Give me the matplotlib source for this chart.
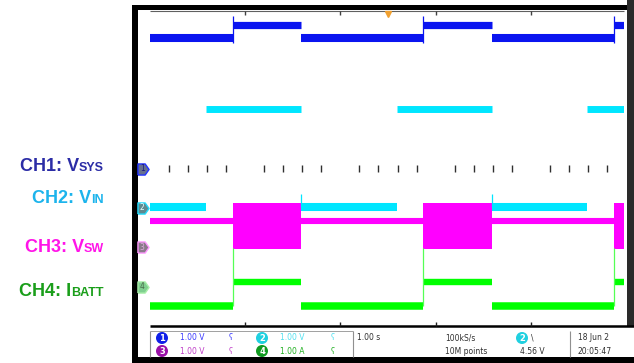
import matplotlib
matplotlib.use('Agg')
import matplotlib.pyplot as plt
from matplotlib.patches import Rectangle, Circle
import numpy as np

# ---------------- data (time in s, 1 s/div ; levels in div units of 1.00 V or A) ----------------
t_end = 4.98
edges_main = [0.872, 1.586, 2.868, 3.592, 4.874]   # CH1 / CH3 / CH4 rise, fall, ...
edges_vin = [0.588, 1.586, 2.594, 3.592, 4.590]    # CH2 rise, fall, ...

ch_names = ['CH1: V', 'CH2: V', 'CH3: V', 'CH4: I']
ch_subs = ['SYS', 'IN', 'SW', 'BATT']
ch_offsets = [0.0, -1.0, -2.0, -3.0]               # ground marker position (div)

ch1_levels = [3.31, 3.65]        # V (low, high)
ch2_levels = [0.01, 2.50]        # V
ch3_off_level = 0.67             # V while not switching
ch3_band = [-0.04, 1.12]         # V switching envelope
ch4_levels = [-0.50, 0.12]       # A
ch1_spike = [3.18, 3.87]
ch2_spike = [0.01, 0.35]
ch4_spike = [-0.50, 0.98]

trace_colors = ['#0a14f0', '#00e6ff', '#ff00ff', '#00ff00']
label_colors = ['#2b2ca6', '#1cb4ec', '#ff14e8', '#1a9e1a']
label_y = [171, 203, 252, 296]

W, H = 634, 363
DIV_X = 95.2


def segments(edges, t1):
    b = [0.0] + list(edges) + [t1]
    return [(b[i], b[i + 1], i % 2) for i in range(len(b) - 1)]


fig = plt.figure(figsize=(W / 100, H / 100), dpi=100)
fig.patch.set_facecolor('white')

# background / frame axes in pixel units
bg = fig.add_axes([0, 0, 1, 1])
bg.set_xlim(0, W)
bg.set_ylim(H, 0)
bg.axis('off')
bg.add_patch(Rectangle((132, 5), W - 132, H - 5, color='black', lw=0))
bg.add_patch(Rectangle((627, 0), 7, 327, color='#2a2a2a', lw=0))
bg.add_patch(Rectangle((138, 10), 489, 317, color='white', lw=0))
bg.add_patch(Rectangle((138, 327), W - 138, 30, color='white', lw=0))

# scope screen axes
ax = fig.add_axes([150 / W, (H - 326) / H, 474 / W, 315 / H])
ax.set_xlim(0, 474 / DIV_X)
ax.set_ylim(-4, 4)
ax.axis('off')
ax.patch.set_alpha(0)

# graticule
ax.hlines(4, 0, t_end, color='#606060', lw=0.8, clip_on=False)
ax.hlines(-4, 0, 484 / DIV_X, color='black', lw=1.8, clip_on=False)
for k in range(1, 5):
    ax.vlines(k, 3.9, 4, color='#404040', lw=1.0, clip_on=False)
    ax.vlines(k, -4, -3.9, color='#202020', lw=1.0, clip_on=False)
minor = [k * 0.2 for k in range(1, 25) if k % 5 != 0]
ax.vlines(minor, -0.08, 0.08, color='#303030', lw=1.0)
ax.plot([2.5], [3.93], marker='v', ms=4, color='#f0a030', clip_on=False)

# CH1 Vsys
off = ch_offsets[0]
for t0, t1, s in segments(edges_main, t_end):
    ax.hlines(ch1_levels[s] + off, t0, t1, color=trace_colors[0], lw=5.2 if s else 5.8)
ax.vlines(edges_main[0::2], ch1_spike[0] + off, ch1_spike[1] + off, color=trace_colors[0], lw=0.9)

# CH2 Vin
off = ch_offsets[1]
for t0, t1, s in segments(edges_vin, t_end):
    ax.hlines(ch2_levels[s] + off, t0, t1, color=trace_colors[1], lw=5.0 if s else 5.8)
ax.vlines(edges_vin[1::2], ch2_spike[0] + off, ch2_spike[1] + off, color=trace_colors[1], lw=0.9)

# CH3 Vsw
off = ch_offsets[2]
for t0, t1, s in segments(edges_main, t_end):
    if s:
        ax.fill_between([t0, t1], ch3_band[0] + off, ch3_band[1] + off, color=trace_colors[2], lw=0)
    else:
        ax.hlines(ch3_off_level + off, t0, t1, color=trace_colors[2], lw=4.4)

# CH4 Ibatt
off = ch_offsets[3]
for t0, t1, s in segments(edges_main, t_end):
    ax.hlines(ch4_levels[s] + off, t0, t1, color=trace_colors[3], lw=5.4 if not s else 4.6)
ax.vlines(edges_main[0::2], ch4_spike[0] + off, ch4_spike[1] + off, color='#55ff55', lw=0.9)

# channel ground markers
arrow = [(-1, -1), (0.3, -1), (1, 0), (0.3, 1), (-1, 1), (-1, -1)]
m_face = ['#66708f', '#5f8a90', '#8a7a8a', '#7fcf8f']
m_edge = ['#2233ff', '#22ddff', '#ff99ff', '#a8eea8']
m_text = ['#1a1a80', '#e0ffff', '#ddaadd', '#4a6a4a']
for i, o in enumerate(ch_offsets):
    ax.plot([-7 / DIV_X], [o], marker=arrow, ms=8, mfc=m_face[i], mec=m_edge[i], mew=1.0, clip_on=False)
    ax.text(-7.8 / DIV_X, o, str(i + 1), ha='center', va='center', fontsize=5.5, color=m_text[i],
            family='DejaVu Sans', clip_on=False)

# left channel labels (big text + small caps part)
renderer = fig.canvas.get_renderer()
for name, sub, col, y in zip(ch_names, ch_subs, label_colors, label_y):
    t2 = bg.text(104, y, sub, ha='right', va='baseline', fontsize=9, fontweight='bold',
                 color=col, family='Liberation Sans')
    w = t2.get_window_extent(renderer).width
    bg.text(104 - w, y, name, ha='right', va='baseline', fontsize=13, fontweight='bold',
            color=col, family='Liberation Sans')

# status bar
for x in [150, 353, 570]:
    bg.vlines(x, 331, 357, color='#909090', lw=0.8)
bg.hlines(331, 150, 353, color='#909090', lw=0.6)
badges = [(162, 338, '1', '#1020e8'), (162, 351, '3', '#9a10a8'),
          (262, 338, '2', '#20d0e0'), (262, 351, '4', '#109a20'),
          (522, 338, '2', '#20d0e0')]
for x, y, s, c in badges:
    bg.add_patch(Circle((x, y), 6, color=c, lw=0))
    bg.text(x, y + 0.5, s, ha='center', va='center', fontsize=6, fontweight='bold', color='white')
status = [(180, 338, '1.00 V', '#3a3aff'), (180, 351, '1.00 V', '#c040c8'),
          (229, 338, 'ʕ', '#3a3aff'), (229, 351, 'ʕ', '#c040c8'),
          (280, 338, '1.00 V', '#50e0f0'), (280, 351, '1.00 A', '#20b020'),
          (331, 338, 'ʕ', '#50e0f0'), (331, 351, 'ʕ', '#20b020'),
          (357, 338, '1.00 s', '#303030'), (445, 338, '100kS/s', '#303030'),
          (445, 351, '10M points', '#303030'), (531, 338, '\\', '#303030'),
          (520, 351, '4.56 V', '#303030'), (578, 338, '18 Jun 2', '#303030'),
          (578, 351, '20:05:47', '#303030')]
for x, y, s, c in status:
    bg.text(x, y, s, ha='left', va='center', fontsize=5.5, color=c, family='DejaVu Sans')

fig.savefig('out.png', dpi=100)
